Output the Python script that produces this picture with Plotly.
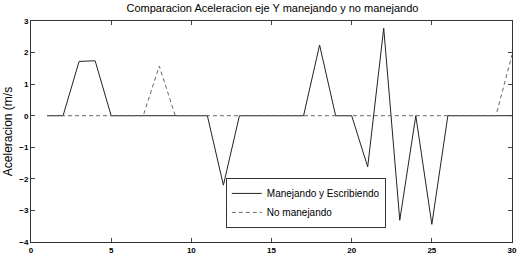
import plotly.graph_objects as go

x = list(range(1, 31))
manejando = [0, 0, 1.72, 1.74, 0, 0, 0, 0, 0, 0, 0, -2.2, 0, 0, 0, 0, 0, 2.24, 0, 0,
             -1.62, 2.77, -3.31, 0, -3.44, 0, 0, 0, 0, 0]
no_manejando = [0, 0, 0, 0, 0, 0, 0, 1.57, 0, 0, 0, 0, 0, 0, 0, 0, 0, 0, 0, 0,
                0, 0, 0, 0, 0, 0, 0, 0, 0, 1.93]

title = "Comparacion Aceleracion eje Y manejando y no manejando"
ylabel = "Aceleracion (m/s"
names = ["Manejando y Escribiendo", "No manejando"]

fig = go.Figure()
fig.add_trace(go.Scatter(x=x, y=manejando, mode="lines", name=names[0],
                         line=dict(color="#222222", width=1)))
fig.add_trace(go.Scatter(x=x, y=no_manejando, mode="lines", name=names[1],
                         line=dict(color="#666666", width=1, dash="4px,3px")))

fam = "Liberation Sans, Arial"
fig.update_layout(
    width=524, height=266,
    margin=dict(l=30, r=7, t=21, b=24),
    paper_bgcolor="white", plot_bgcolor="white",
    title=dict(text=title, x=0.52, xanchor="center", y=0.985, yanchor="top",
               font=dict(family=fam, size=11, color="black")),
    font=dict(family=fam, size=9, color="black"),
    showlegend=True,
    legend=dict(x=0.405, y=0.29, xanchor="left", yanchor="top",
                bgcolor="white", bordercolor="#333333", borderwidth=1,
                font=dict(family=fam, size=10, color="black"),
                tracegroupgap=0, itemwidth=30),
)
tickfont = dict(family=fam, size=8, color="black", weight="bold")
fig.update_xaxes(range=[0, 30], tickvals=[0, 5, 10, 15, 20, 25, 30],
                 ticks="inside", ticklen=4, mirror="ticks", showline=True,
                 linecolor="#333333", linewidth=1, showgrid=False, zeroline=False,
                 tickfont=tickfont)
fig.update_yaxes(range=[-4, 3], tickvals=[-4, -3, -2, -1, 0, 1, 2, 3],
                 ticks="inside", ticklen=4, mirror="ticks", showline=True,
                 linecolor="#333333", linewidth=1, showgrid=False, zeroline=False,
                 title=dict(text=ylabel, standoff=4,
                            font=dict(family=fam, size=12, color="black")),
                 tickfont=tickfont)

fig.write_html("out.html")
